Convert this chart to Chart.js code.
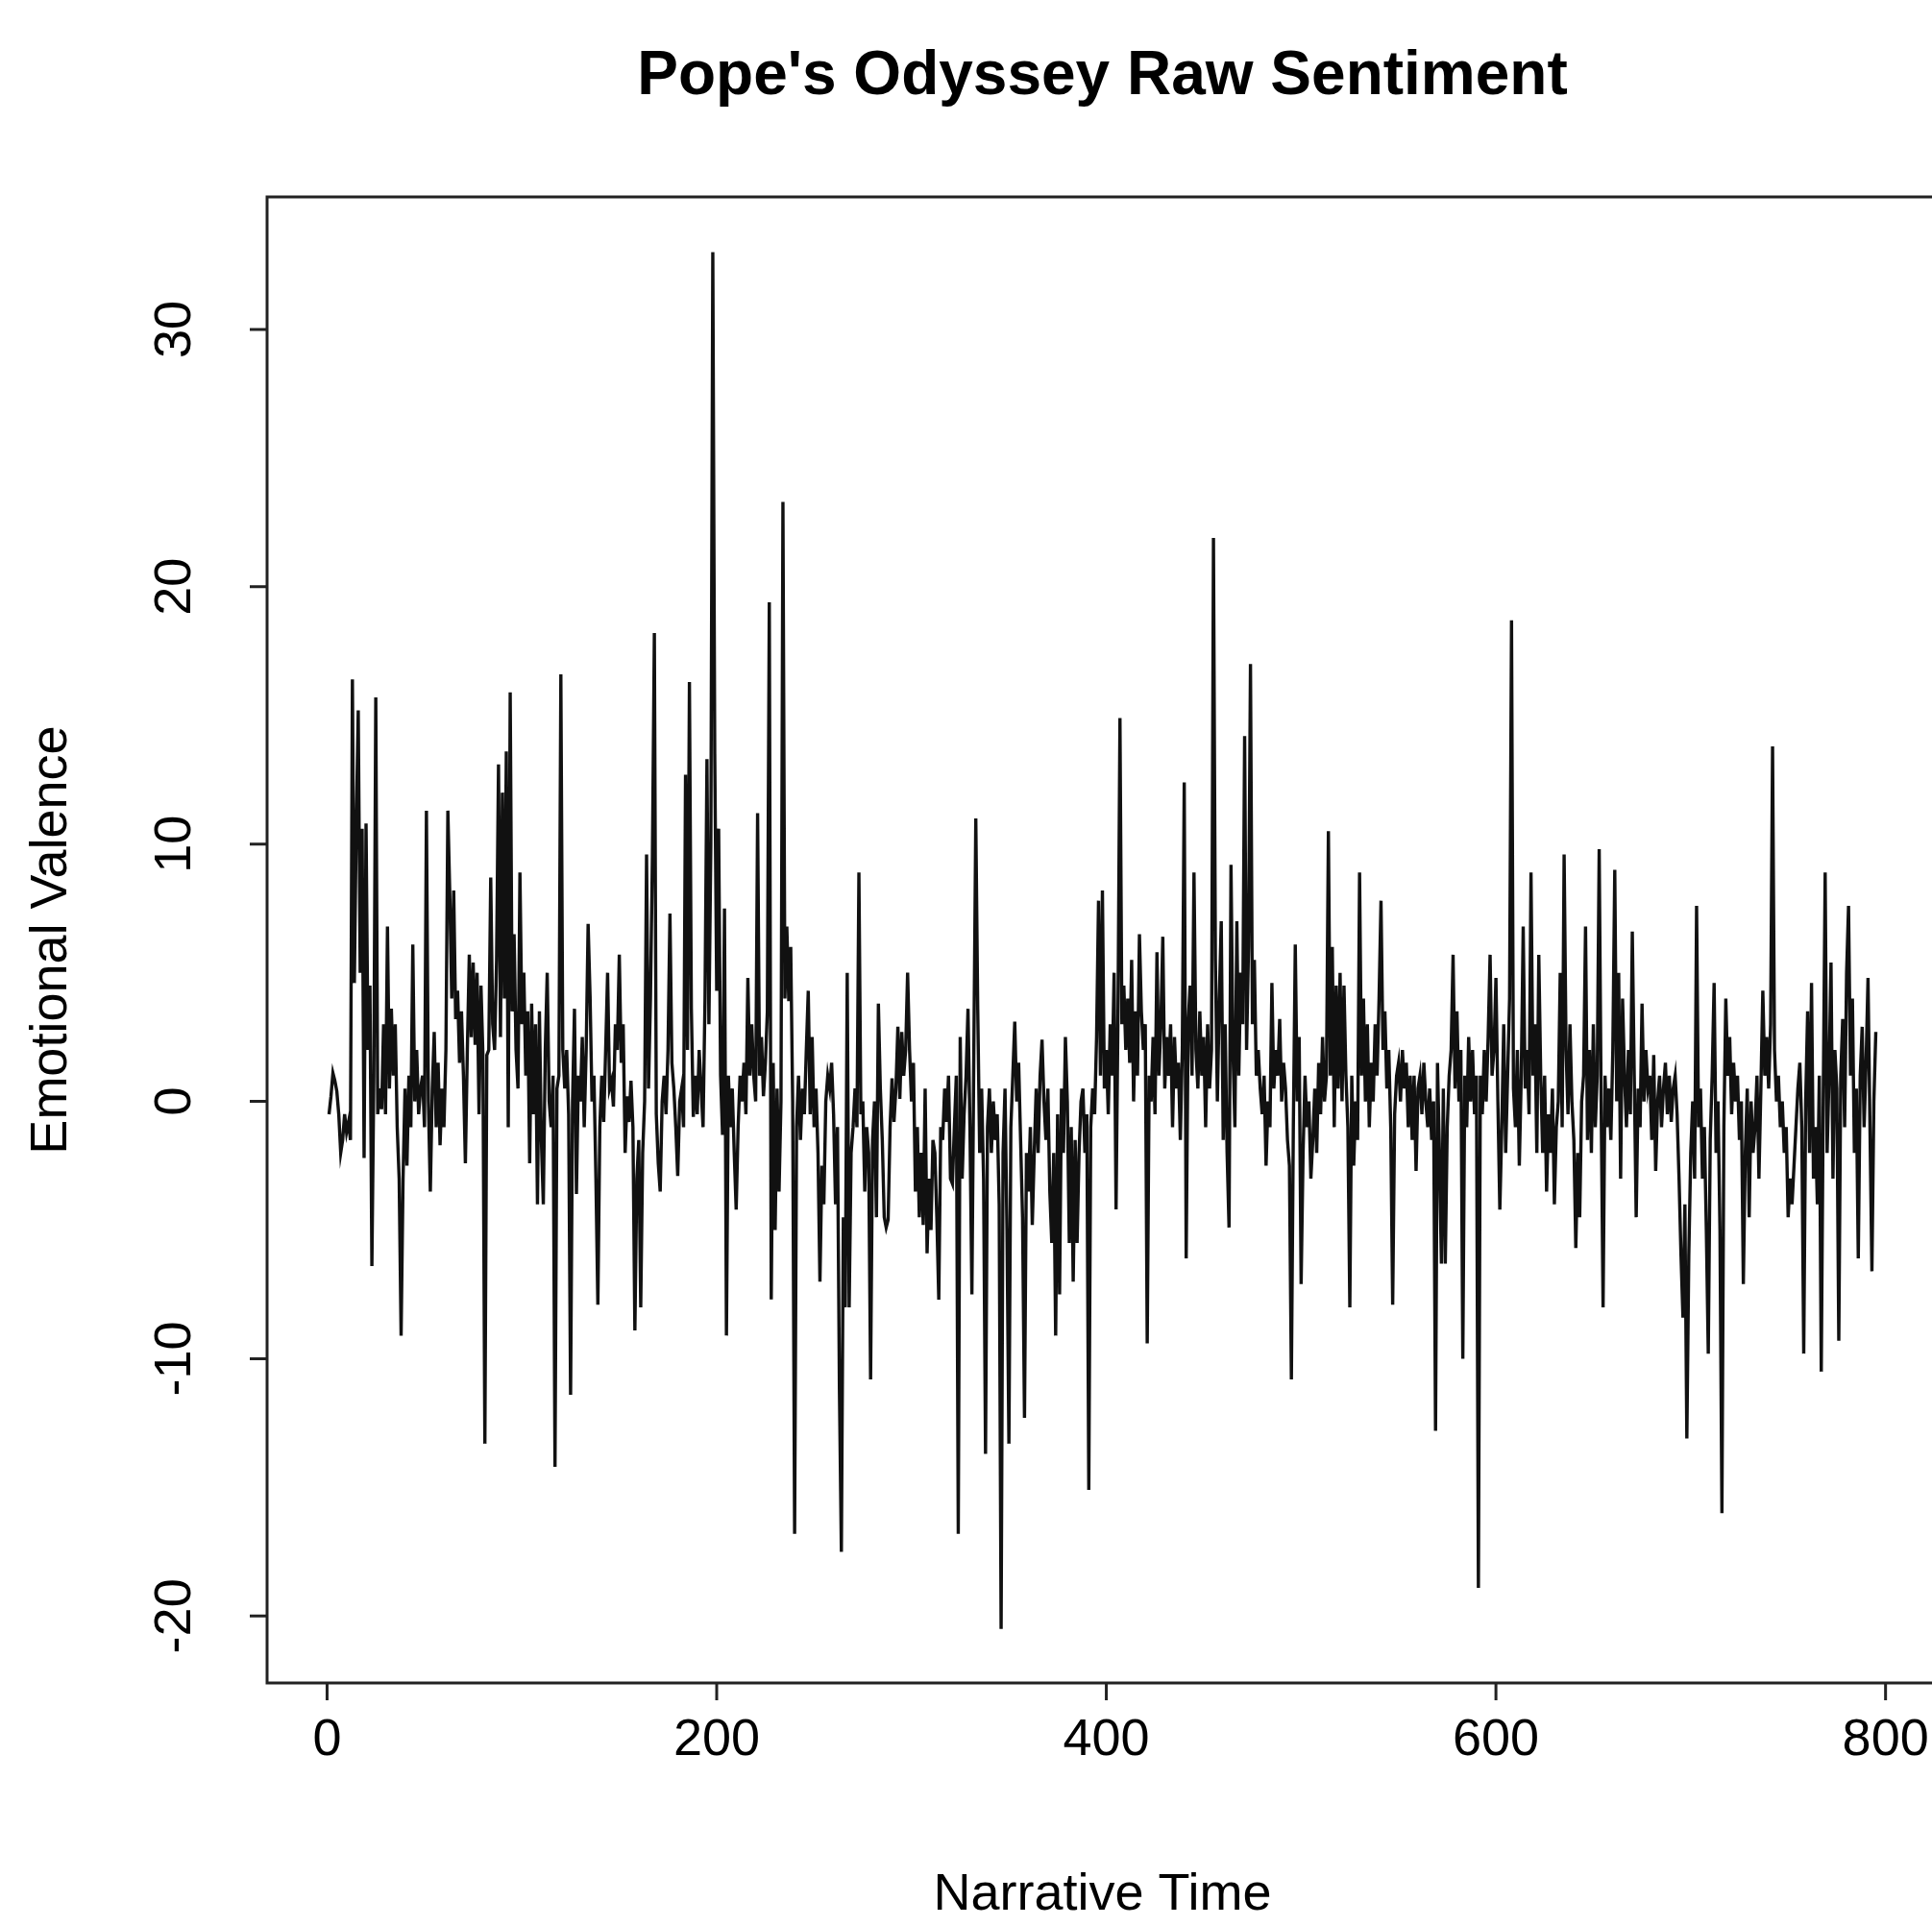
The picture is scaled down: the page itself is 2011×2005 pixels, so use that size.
<!DOCTYPE html>
<html>
<head>
<meta charset="utf-8">
<script src="https://cdn.jsdelivr.net/npm/chart.js@4.4.1/dist/chart.umd.min.js"></script>
<style>
    html, body { margin: 0; padding: 0; background: #fff; overflow: hidden; }
    #wrap { width: 2025px; height: 2005px; position: relative; }
</style>
</head>
<body>
<div id="wrap"><canvas id="chart"></canvas></div>
<script>
const TITLE = "Pope's Odyssey Raw Sentiment";
const X_LABEL = 'Narrative Time';
const Y_LABEL = 'Emotional Valence';
const X_TICKS = [0, 200, 400, 600, 800];
const Y_TICKS = [-20, -10, 0, 10, 20, 30];

// sentiment per narrative chunk (index 1..795)
const valence = [
    -0.5, 0.2, 1.1, 0.8, 0.4, -0.5, -2.0, -1.5, -0.5, -1.2,
    -0.8, -1.5, 16.4, 4.6, 10.8, 15.2, 5.0, 10.6, -2.2, 10.8,
    2.0, 4.5, -6.4, 1.0, 15.7, -0.5, 0.5, -0.3, 3.0, -0.5,
    6.8, 0.5, 3.6, 1.0, 3.0, -1.0, -3.0, -9.1, -3.0, 0.5,
    -2.5, 1.0, -1.0, 6.1, 0.0, 2.0, -0.5, 0.5, 1.0, -1.0,
    11.3, 0.0, -3.5, 0.5, 2.7, -1.0, 1.5, -1.7, 0.5, -1.0,
    2.0, 11.3, 8.0, 4.0, 8.2, 3.2, 4.3, 1.5, 3.5, 1.0,
    -2.4, 2.0, 5.7, 2.5, 5.4, 2.2, 5.0, -0.5, 4.5, 1.8,
    -13.3, 1.8, 2.0, 8.7, 3.0, 2.0, 5.5, 13.1, 2.5, 12.0,
    4.0, 13.6, -1.0, 15.9, 3.5, 6.5, 2.0, 0.5, 8.9, 3.0,
    5.0, 1.0, 3.5, -2.4, 3.8, -0.5, 3.0, -4.0, 3.5, -1.5,
    -4.0, 2.0, 5.0, 0.0, -1.0, 1.0, -14.2, 0.5, 1.0, 16.6,
    2.0, 0.5, 2.0, -0.5, -11.4, 0.0, 3.6, -3.6, 1.0, 0.0,
    2.5, -1.0, 2.0, 6.9, 4.1, 0.0, 1.0, -3.0, -7.9, -1.0,
    1.0, -0.8, 2.0, 5.0, 0.5, 0.8, -0.2, 3.0, 2.0, 5.7,
    1.5, 3.0, -2.0, 0.2, -0.8, 0.8, -1.0, -8.9, -3.0, -1.5,
    -8.0, -2.0, 0.0, 9.6, 0.5, 4.0, 9.5, 18.2, -0.5, -2.4,
    -3.5, 0.0, 1.0, -0.5, 2.0, 7.3, 1.5, 0.5, -1.0, -2.9,
    0.0, 0.5, -1.0, 12.7, 2.0, 16.3, 3.6, -0.6, 1.0, -0.5,
    2.0, 0.5, -1.0, 4.0, 13.3, 3.0, 10.0, 33.0, 13.5, 4.3,
    10.6, 1.0, -1.3, 7.5, -9.1, 1.0, -1.0, 0.5, -2.0, -4.2,
    -1.0, 1.0, 0.0, 1.5, -0.5, 4.8, 1.0, 3.0, 1.0, 0.0,
    11.2, 1.0, 2.5, 0.2, 1.5, 3.5, 19.4, -7.7, 1.5, -5.0,
    0.5, -3.5, 0.0, 23.3, 4.0, 6.8, 3.9, 6.0, 0.0, -16.8,
    -1.0, 1.0, -1.5, 0.5, -0.5, 2.0, 4.3, -0.5, 2.5, -1.0,
    0.5, -2.0, -7.0, -2.5, -4.0, 0.0, 1.0, 0.5, 1.5, -0.5,
    -4.0, -1.0, -11.2, -17.5, -4.5, -8.0, 5.0, -8.0, -2.0, -1.0,
    0.5, -1.0, 8.9, -0.5, 0.0, -3.5, -1.0, -2.0, -10.8, -1.5,
    0.0, -4.5, 3.8, 0.5, -1.5, -4.5, -4.9, -4.6, -1.0, 0.9,
    -0.8, 0.5, 2.9, 0.1, 2.7, 1.0, 2.0, 5.0, 2.0, 0.0,
    1.5, -3.5, -1.0, -4.5, -2.0, -4.8, 0.5, -5.9, -3.0, -5.0,
    -1.5, -2.0, -4.5, -7.7, -1.0, -1.5, 0.5, -0.8, 1.0, -3.0,
    -3.2, -1.0, 1.0, -16.8, 2.5, -3.0, -0.5, 1.0, 3.6, -1.0,
    -7.5, 2.0, 11.0, 3.6, -2.0, 0.5, -3.0, -13.7, -1.0, 0.5,
    -2.0, 0.0, -1.5, -0.5, -4.0, -20.5, -2.0, 0.5, -5.0, -13.3,
    -1.0, 1.0, 3.1, 0.0, 1.5, -1.5, -4.5, -12.3, -2.0, -3.5,
    -1.0, -4.8, -2.0, 0.5, -2.0, 1.0, 2.4, 0.0, -1.5, 0.5,
    -3.5, -5.5, -2.0, -9.1, -0.5, -7.5, 0.5, -2.0, 2.5, 0.0,
    -5.5, -1.0, -7.0, -1.5, -5.5, -2.0, 0.0, 0.5, -2.0, -0.5,
    -15.1, -1.0, 0.5, -0.5, 2.5, 7.8, 1.0, 8.2, 0.5, 2.0,
    -0.5, 3.0, 1.0, 5.0, -4.2, 3.5, 14.9, 3.0, 4.5, 2.0,
    4.0, 1.5, 5.5, 0.0, 3.5, 1.0, 6.5, 3.5, 2.0, 3.0,
    -9.4, 1.0, 0.0, 2.5, -0.5, 5.8, 1.0, 3.0, 6.4, 0.5,
    2.5, 1.0, 3.0, -1.0, 2.5, 0.5, 1.5, -1.5, 2.0, 12.4,
    -6.1, 3.0, 4.5, 1.0, 8.9, 2.0, 0.5, 3.5, 1.0, 2.5,
    -1.0, 3.0, 0.5, 2.0, 21.9, 5.5, 0.0, 4.0, 7.0, -1.5,
    3.0, -2.0, -4.9, 9.2, 2.0, -1.0, 7.0, 1.0, 5.0, 3.0,
    14.2, 2.0, 6.0, 17.0, 3.0, 5.5, 1.0, 2.0, 0.5, -0.5,
    1.0, -2.5, 0.0, -1.0, 4.6, 0.5, 2.0, 1.0, 3.2, 0.0,
    1.5, 0.5, -1.5, -2.5, -10.8, -1.0, 6.1, 0.0, 2.5, -7.1,
    -2.0, 1.0, -1.0, 0.0, -3.0, -1.5, 0.5, -2.0, 1.5, -0.5,
    2.5, 0.0, 1.0, 10.5, 1.0, 6.0, -1.0, 4.5, 0.5, 5.0,
    0.0, 4.5, 1.0, -1.0, -8.0, 1.0, -2.5, 0.0, -1.5, 8.9,
    1.0, 4.0, 0.0, 3.0, -1.0, 1.5, 0.0, 3.0, 1.0, 4.0,
    7.8, 2.0, 3.5, 0.5, 2.0, -1.0, -7.9, -0.5, 1.0, 1.5,
    0.0, 2.0, 0.5, 1.5, -1.0, 1.0, -1.5, 1.0, -2.7, 0.5,
    1.0, -0.5, 1.5, 0.0, -1.0, 0.5, -1.5, 0.0, -12.8, 1.5,
    -2.0, -6.3, 0.5, -6.3, -1.0, 1.0, 2.0, 5.7, 0.5, 3.5,
    0.0, 2.0, -10.0, 1.0, -1.0, 2.5, 0.0, 2.0, -0.5, 1.0,
    -18.9, 1.0, -0.5, 2.0, 0.0, 2.5, 5.7, 1.0, 2.0, 4.8,
    0.0, -4.2, -1.0, 3.0, -2.0, 1.0, 4.0, 18.7, 0.5, -1.0,
    2.0, -2.5, 1.0, 6.8, 0.5, 2.0, -0.5, 8.9, 1.0, 3.0,
    -2.0, 5.7, 1.0, -2.0, 1.0, -3.5, -0.5, -2.0, 0.5, -4.0,
    -1.0, 0.0, 5.0, -1.0, 9.6, 2.0, -0.5, 3.0, 0.0, -1.5,
    -5.7, -2.0, -4.5, 0.0, 1.0, 6.8, -1.5, 2.0, -2.0, 3.0,
    -1.0, 1.0, 9.8, 0.0, -8.0, 1.0, -1.0, 0.5, -1.5, 2.0,
    9.0, 0.0, 5.0, -3.0, 4.0, 1.0, -1.0, 2.0, -0.5, 6.6,
    1.0, -4.5, 0.5, -1.0, 3.8, 0.0, 2.0, 0.5, 1.0, -1.5,
    1.8, -2.7, 0.0, 1.0, -1.0, 0.5, 1.5, -0.5, 1.0, -0.8,
    0.5, 1.0, -0.5, -3.0, -6.0, -8.4, -4.0, -13.1, -6.0, -2.0,
    0.0, -3.0, 7.6, -1.0, 0.5, -3.0, -1.0, -5.0, -9.8, -1.5,
    1.0, 4.6, -2.0, 0.0, -5.0, -16.0, -1.0, 4.0, 1.0, 2.5,
    -0.5, 1.5, 0.0, 1.0, -1.5, 0.0, -7.1, -2.0, 0.5, -4.5,
    0.0, -2.0, -1.0, 1.0, -3.0, 0.5, 4.3, 1.0, 2.5, 0.5,
    3.0, 13.8, 2.0, 0.0, 1.0, -1.0, 0.0, -2.0, -1.0, -4.5,
    -3.0, -4.0, -2.5, -1.0, 0.5, 1.5, -1.0, -9.8, 0.0, 3.5,
    -2.0, 4.6, -3.0, -1.0, -4.0, 1.0, -10.5, 0.0, 8.9, -2.0,
    1.0, 5.4, -3.0, 2.0, 0.5, -9.3, 1.0, 3.2, -1.0, 5.0,
    7.6, 1.0, 4.0, -2.0, 0.5, -6.1, 1.0, 2.9, -1.0, 1.5,
    4.8, -1.0, -6.6, 0.0, 2.7
];

const FONT = '"Liberation Sans", Arial, sans-serif';

// R-style box, ticks, labels and titles, placed through the chart scales
const rDecor = {
    id: 'rDecor',
    afterDraw(chart) {
        const { ctx, chartArea: a, scales: { x, y } } = chart;
        const tick = 18;
        ctx.save();
        ctx.strokeStyle = '#222';
        ctx.lineWidth = 3;
        ctx.strokeRect(a.left, a.top, a.right - a.left, a.bottom - a.top);

        ctx.fillStyle = '#000';
        ctx.font = `54px ${FONT}`;
        ctx.textAlign = 'center';
        ctx.textBaseline = 'middle';
        ctx.beginPath();
        X_TICKS.forEach(t => {
            const px = x.getPixelForValue(t);
            ctx.moveTo(px, a.bottom);
            ctx.lineTo(px, a.bottom + tick);
        });
        Y_TICKS.forEach(t => {
            const py = y.getPixelForValue(t);
            ctx.moveTo(a.left, py);
            ctx.lineTo(a.left - tick, py);
        });
        ctx.stroke();

        X_TICKS.forEach(t => ctx.fillText(String(t), x.getPixelForValue(t), 1812));
        Y_TICKS.forEach(t => {
            ctx.save();
            ctx.translate(183, y.getPixelForValue(t));
            ctx.rotate(-Math.PI / 2);
            ctx.fillText(String(t), 0, 0);
            ctx.restore();
        });

        ctx.fillText(X_LABEL, (a.left + a.right) / 2, 1973);
        ctx.save();
        ctx.translate(54, (a.top + a.bottom) / 2);
        ctx.rotate(-Math.PI / 2);
        ctx.fillText(Y_LABEL, 0, 0);
        ctx.restore();

        ctx.font = `bold 64px ${FONT}`;
        ctx.fillText(TITLE, (a.left + a.right) / 2, 80);
        ctx.restore();
    }
};

new Chart(document.getElementById('chart'), {
    type: 'line',
    data: {
        datasets: [{
            data: valence.map((v, i) => ({ x: i + 1, y: v })),
            borderColor: '#111',
            borderWidth: 3.4,
            pointRadius: 0,
            tension: 0,
            fill: false
        }]
    },
    options: {
        responsive: true,
        maintainAspectRatio: false,
        animation: false,
        events: [],
        layout: { padding: { top: 205, right: 8, left: 0, bottom: 0 } },
        plugins: { legend: { display: false }, tooltip: { enabled: false } },
        scales: {
            x: {
                type: 'linear',
                min: -30.8,
                max: 826.8,
                grid: { display: false },
                border: { display: false },
                ticks: { display: false },
                afterFit: s => { s.height = 253; }
            },
            y: {
                min: -22.6,
                max: 35.15,
                grid: { display: false },
                border: { display: false },
                ticks: { display: false },
                afterFit: s => { s.width = 278; }
            }
        }
    },
    plugins: [rDecor]
});
</script>
</body>
</html>
